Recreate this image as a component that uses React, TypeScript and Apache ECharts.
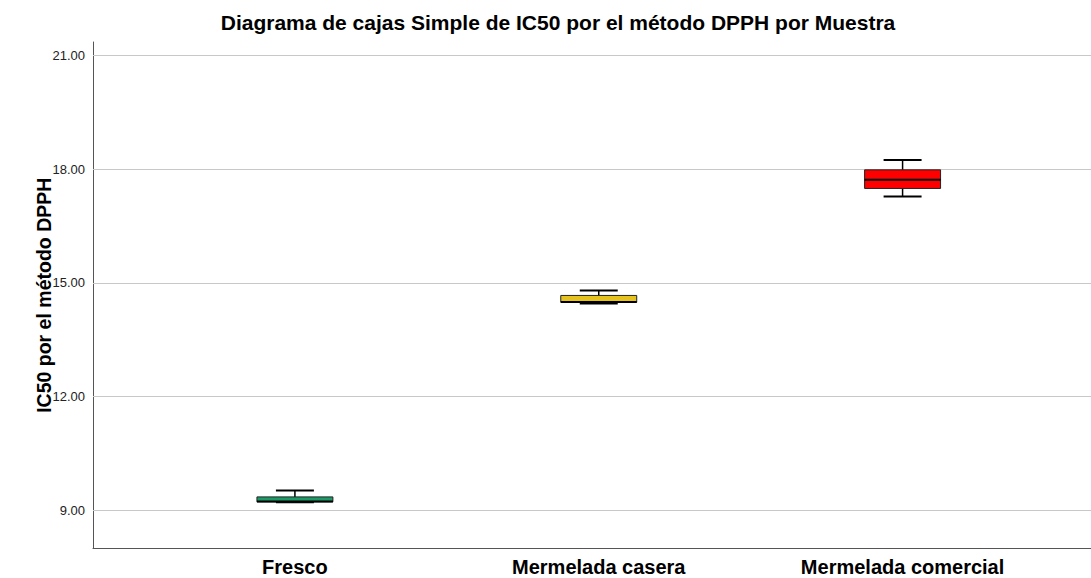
import React, { useEffect, useRef } from "react";
import * as echarts from "echarts";

const categories = ["Fresco", "Mermelada casera", "Mermelada comercial"];
// [min, Q1, median, Q3, max]
const boxValues = [
  [9.22, 9.23, 9.24, 9.36, 9.53],
  [14.46, 14.49, 14.5, 14.67, 14.8],
  [17.28, 17.49, 17.72, 17.98, 18.24],
];
const boxColors = ["#1a9b68", "#e6c21e", "#ff0000"];
const yTicks = [9, 12, 15, 18, 21];

const Y_MIN = 8;
const Y_MAX = 21.35;

export default function App() {
  const ref = useRef<HTMLDivElement>(null);
  useEffect(() => {
    if (!ref.current) return;
    const chart = echarts.init(ref.current, undefined, { renderer: "svg" });
    const fontFamily = "'Liberation Sans', Arial, sans-serif";
    chart.setOption({
      animation: false,
      backgroundColor: "#ffffff",
      title: {
        text: "Diagrama de cajas Simple de IC50 por el método DPPH por Muestra",
        left: 553,
        top: 7,
        textAlign: "center",
        textStyle: { fontFamily, fontSize: 21, fontWeight: "bold", color: "#000" },
      },
      grid: [
        { left: 93, right: 0, top: 42, bottom: 29.5 },
        { left: 143, right: 36.5, top: 42, bottom: 29.5 },
      ],
      xAxis: [
        {
          type: "value",
          gridIndex: 0,
          min: 0,
          max: 1,
          axisLine: { show: true, lineStyle: { color: "#555", width: 1 } },
          axisTick: { show: false },
          axisLabel: { show: false },
          splitLine: { show: false },
        },
        {
          type: "category",
          gridIndex: 1,
          data: categories,
          boundaryGap: true,
          axisLine: { show: false },
          axisTick: { show: false },
          splitLine: { show: false },
          axisLabel: {
            margin: 8,
            fontFamily,
            fontSize: 20,
            fontWeight: "bold",
            color: "#000",
          },
        },
      ],
      yAxis: [
        {
          type: "value",
          gridIndex: 0,
          min: Y_MIN,
          max: Y_MAX,
          interval: 1,
          name: "IC50 por el método DPPH",
          nameLocation: "middle",
          nameGap: 39,
          nameMoveOverlap: false,
          nameTextStyle: { fontFamily, fontSize: 19.5, fontWeight: "bold", color: "#000" },
          axisLine: { show: true, lineStyle: { color: "#555", width: 1 } },
          axisTick: { show: false },
          splitLine: { show: false },
          axisLabel: {
            margin: 8,
            fontFamily,
            fontSize: 13,
            color: "#222",
            showMinLabel: false,
            showMaxLabel: false,
            formatter: (v: number) => (yTicks.includes(Math.round(v)) && Math.abs(v - Math.round(v)) < 1e-6 ? v.toFixed(2) : ""),
          },
        },
        {
          type: "value",
          gridIndex: 1,
          min: Y_MIN,
          max: Y_MAX,
          show: false,
          splitLine: { show: false },
        },
      ],
      series: [
        {
          type: "line",
          xAxisIndex: 0,
          yAxisIndex: 0,
          data: [[0, 9]],
          symbol: "none",
          lineStyle: { opacity: 0 },
          silent: true,
          markLine: {
            silent: true,
            symbol: "none",
            label: { show: false },
            lineStyle: { color: "#c8c8c8", width: 1, type: "solid" },
            data: yTicks.map((t) => ({ yAxis: t })),
          },
          z: 1,
        },
        {
          type: "custom",
          xAxisIndex: 1,
          yAxisIndex: 1,
          z: 5,
          data: boxValues.map((b, i) => [i, ...b]),
          renderItem: (params: any, api: any) => {
            const idx = api.value(0);
            const vmin = api.value(1);
            const q1 = api.value(2);
            const med = api.value(3);
            const q3 = api.value(4);
            const vmax = api.value(5);
            const band = api.size([1, 0])[0];
            const bw = band * 0.25;
            const cw = bw * 0.5;
            const pMin = api.coord([idx, vmin]);
            const pQ1 = api.coord([idx, q1]);
            const pMed = api.coord([idx, med]);
            const pQ3 = api.coord([idx, q3]);
            const pMax = api.coord([idx, vmax]);
            const cx = pMed[0];
            const lineStyle = { stroke: "#000", lineWidth: 1.5 };
            return {
              type: "group",
              children: [
                { type: "line", shape: { x1: cx, y1: pMax[1], x2: cx, y2: pQ3[1] }, style: lineStyle },
                { type: "line", shape: { x1: cx, y1: pQ1[1], x2: cx, y2: pMin[1] }, style: lineStyle },
                { type: "line", shape: { x1: cx - cw / 2, y1: pMax[1], x2: cx + cw / 2, y2: pMax[1] }, style: { stroke: "#000", lineWidth: 2 } },
                { type: "line", shape: { x1: cx - cw / 2, y1: pMin[1], x2: cx + cw / 2, y2: pMin[1] }, style: { stroke: "#000", lineWidth: 2 } },
                {
                  type: "rect",
                  shape: { x: cx - bw / 2, y: pQ3[1], width: bw, height: pQ1[1] - pQ3[1] },
                  style: { fill: boxColors[idx], stroke: "#222", lineWidth: 1 },
                },
                { type: "line", shape: { x1: cx - bw / 2, y1: pMed[1], x2: cx + bw / 2, y2: pMed[1] }, style: { stroke: "#000", lineWidth: 2 } },
              ],
            };
          },
        },
      ],
    });
    return () => chart.dispose();
  }, []);
  return (
    <div
      ref={ref}
      style={{ position: "fixed", left: 0, top: 0, width: 1091, height: 578 }}
    />
  );
}
